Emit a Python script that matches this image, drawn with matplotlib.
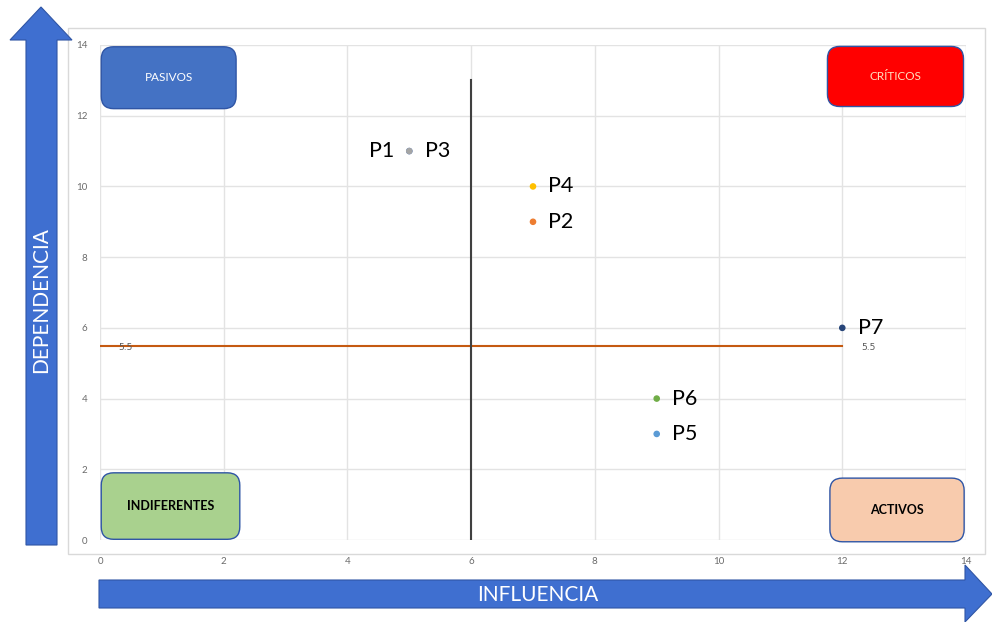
import matplotlib.pyplot as plt
from matplotlib.patches import FancyBboxPatch, Polygon, Rectangle

# puntos del mapa de influencia / dependencia
nombres = ["P1 ", "P2", "P3", "P4", "P5", "P6", "P7"]
influencia = [5, 7, 5, 7, 9, 9, 12]
dependencia = [11, 9, 11, 10, 3, 4, 6]
colores = ["#4472C4", "#ED7D31", "#A5A5A5", "#FFC000", "#5B9BD5", "#70AD47", "#264478"]

corte_dep = 5.5
corte_inf = 6
ticks = [0, 2, 4, 6, 8, 10, 12, 14]

fuente = "Lato"
W, H = 992, 622
fig = plt.figure(figsize=(W / 100, H / 100), dpi=100)

# marco del grafico y flechas (coordenadas en pixeles)
fondo = fig.add_axes([0, 0, 1, 1])
fondo.set_xlim(0, W)
fondo.set_ylim(H, 0)
fondo.axis("off")
fondo.add_patch(Rectangle((68, 28), 917, 526, fill=False, ec="#D9D9D9", lw=1))
azul = "#3F6FD0"
fondo.add_patch(Polygon([(26, 545), (57, 545), (57, 40), (72, 40), (41, 7),
                         (10, 40), (26, 40)], closed=True, fc=azul, ec="#2F55A5", lw=0.8))
fondo.add_patch(Polygon([(99, 580), (965, 580), (965, 565), (992, 594), (965, 622),
                         (965, 608), (99, 608)], closed=True, fc=azul, ec="#2F55A5", lw=0.8))
fondo.text(41, 300, "DEPENDENCIA", rotation=90, color="white", fontsize=15,
           ha="center", va="center", family=fuente)
fondo.text(538, 595, "INFLUENCIA", color="white", fontsize=15,
           ha="center", va="center", family=fuente)

ax = fig.add_axes([100 / W, 1 - 540 / H, 866 / W, 495 / H])
ax.set_xlim(0, 14)
ax.set_ylim(0, 14)
ax.set_xticks(ticks)
ax.set_yticks(ticks)
ax.tick_params(labelsize=7, colors="#6b6b6b", length=0)
ax.tick_params(axis="x", pad=12)
ax.tick_params(axis="y", pad=9)
for lab in ax.get_xticklabels() + ax.get_yticklabels():
    lab.set_family(fuente)
ax.grid(color="#E3E3E3", lw=1)
ax.set_axisbelow(True)
for s in ax.spines.values():
    s.set_visible(False)

# lineas de corte
ax.plot([0, 12], [corte_dep, corte_dep], color="#C55A11", lw=1.5)
ax.text(0.3, corte_dep - 0.05, "5.5", fontsize=6.5, color="#595959", va="center")
ax.text(12.3, corte_dep - 0.05, "5.5", fontsize=6.5, color="#595959", va="center")
ax.plot([corte_inf, corte_inf], [0, 13], color="#404040", lw=1.5)

# puntos
ax.scatter(influencia, dependencia, c=colores, s=14, zorder=3)
for n, x, y in zip(nombres, influencia, dependencia):
    if n.strip() == "P1":
        ax.text(x - 0.25, y, "P1", fontsize=15.5, ha="right", va="center", family=fuente)
    else:
        ax.text(x + 0.25, y, n, fontsize=15.5, ha="left", va="center", family=fuente)

# cuadrantes
cajas = [
    ("PASIVOS", 0.02, 12.2, 2.18, 1.75, "#4472C4", "#2F55A5", "white", "normal"),
    ("CRÍTICOS", 11.76, 12.26, 2.2, 1.7, "#FF0000", "#2F55A5", "#FFE0C0", "normal"),
    ("INDIFERENTES", 0.02, 0.02, 2.24, 1.88, "#A9D18E", "#2F55A5", "black", "bold"),
    ("ACTIVOS", 11.8, -0.05, 2.17, 1.8, "#F8CBAD", "#2F55A5", "black", "bold"),
]
for txt, x, y, w, h, fc, ec, tc, fw in cajas:
    ax.add_patch(FancyBboxPatch((x, y), w, h, boxstyle="round,pad=0,rounding_size=0.2",
                                mutation_aspect=1.75, fc=fc, ec=ec, lw=1, zorder=4,
                                clip_on=False))
    ax.text(x + w / 2, y + h / 2, txt, color=tc, fontsize=8.5 if fw == "normal" else 9,
            fontweight=fw, ha="center", va="center", zorder=5, family=fuente)

fig.savefig("out.png", dpi=100)
